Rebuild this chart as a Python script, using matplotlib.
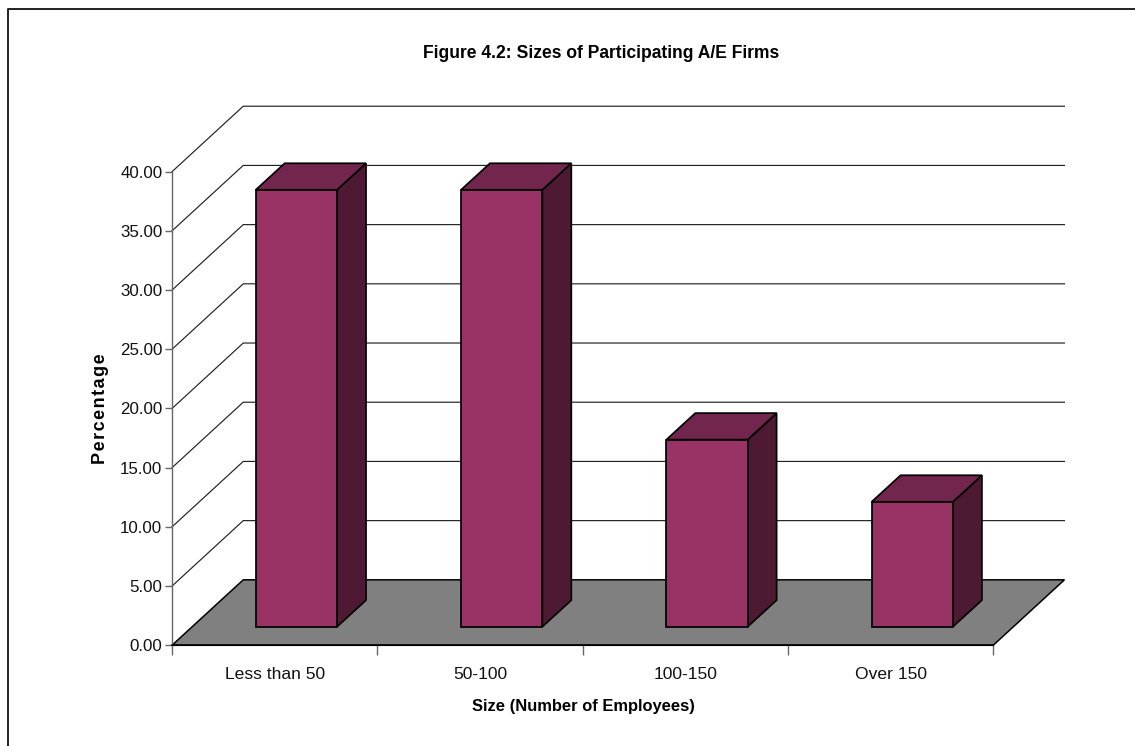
import matplotlib
matplotlib.use("Agg")
import matplotlib.pyplot as plt
from matplotlib.patches import Polygon
from matplotlib.lines import Line2D

W, H = 1135, 746
categories = ["Less than 50", "50-100", "100-150", "Over 150"]
values = [36.9, 36.9, 15.8, 10.55]
y_ticks = [0, 5, 10, 15, 20, 25, 30, 35, 40]
title = "Figure 4.2: Sizes of Participating A/E Firms"
xlabel = "Size (Number of Employees)"
ylabel = "Percentage"

plt.rcParams["font.family"] = ["Liberation Sans", "DejaVu Sans"]

FRONT = "#993366"
TOP = "#73264D"
SIDE = "#4D1933"
FLOOR = "#808080"

# depth of the 3D box, in data units
WALL_DX, WALL_DY = 0.347, 5.53
BAR_OFF_X, BAR_OFF_Y = 0.106, 1.57
BAR_DX, BAR_DY = 0.141, 2.24
BAR_W = 0.396

fig = plt.figure(figsize=(W / 100, H / 100), dpi=100, facecolor="white")
L, R, B, T = 172.0, 993.2, 645.3, 171.7
ax = fig.add_axes([L / W, 1 - B / H, (R - L) / W, (B - T) / H])
ax.set_xlim(0, len(categories))
ax.set_ylim(0, 40)
ax.patch.set_visible(False)

n = len(categories)
# floor
ax.add_patch(Polygon([(0, 0), (n, 0), (n + WALL_DX, WALL_DY), (WALL_DX, WALL_DY)],
                     closed=True, fc=FLOOR, ec="black", lw=1.1, clip_on=False, zorder=2))
# gridlines along wall
for v in y_ticks[1:]:
    ax.plot([0, WALL_DX, n + WALL_DX], [v, v + WALL_DY, v + WALL_DY],
            color="#222222", lw=0.85, clip_on=False, zorder=1, solid_joinstyle="miter")

# bars
for i, v in enumerate(values):
    x0 = i + 0.5 - BAR_W / 2 + BAR_OFF_X
    x1 = x0 + BAR_W
    y0 = BAR_OFF_Y
    y1 = y0 + v
    kw = dict(closed=True, ec="black", lw=1.25, clip_on=False, zorder=3, joinstyle="miter")
    ax.add_patch(Polygon([(x1, y0), (x1 + BAR_DX, y0 + BAR_DY), (x1 + BAR_DX, y1 + BAR_DY), (x1, y1)], fc=SIDE, **kw))
    ax.add_patch(Polygon([(x0, y1), (x1, y1), (x1 + BAR_DX, y1 + BAR_DY), (x0 + BAR_DX, y1 + BAR_DY)], fc=TOP, **kw))
    ax.add_patch(Polygon([(x0, y0), (x1, y0), (x1, y1), (x0, y1)], fc=FRONT, **kw))

# axes
for s in ("top", "right"):
    ax.spines[s].set_visible(False)
ax.spines["left"].set_color("#666666")
ax.spines["left"].set_linewidth(1.0)
ax.spines["bottom"].set_color("black")
ax.spines["bottom"].set_linewidth(1.1)
ax.spines["bottom"].set_zorder(4)
ax.set_yticks(y_ticks)
ax.set_yticklabels([f"{v:.2f}" for v in y_ticks], fontsize=12.2, color="#111111")
ax.set_xticks(range(n + 1))
ax.set_xticklabels([""] * (n + 1))
ax.tick_params(axis="both", length=7, width=1.0, color="#666666", pad=2)
ax.tick_params(axis="y", length=5)
for i, c in enumerate(categories):
    ax.annotate(c, xy=(i + 0.5, 0), xycoords=("data", "axes fraction"), xytext=(0.5, -21),
                textcoords="offset points", ha="center", va="center", fontsize=12.6, color="#111111")

fig.text(601.5 / W, 1 - 53.5 / H, title, ha="center", va="center", fontsize=12.65, fontweight="bold", color="black")
fig.text(583 / W, 1 - 706 / H, xlabel, ha="center", va="center", fontsize=11.85, fontweight="bold", color="black")
fig.text(100.5 / W, 1 - 409 / H, "\u200a".join(ylabel), ha="center", va="center", rotation=90,
         fontsize=13, fontweight="bold", color="black")

# outer frame
fig.add_artist(Line2D([7.5 / W, 7.5 / W, 1], [0, 1 - 9 / H, 1 - 9 / H], color="#222222", lw=1.4))

fig.savefig("out.png", dpi=100)
